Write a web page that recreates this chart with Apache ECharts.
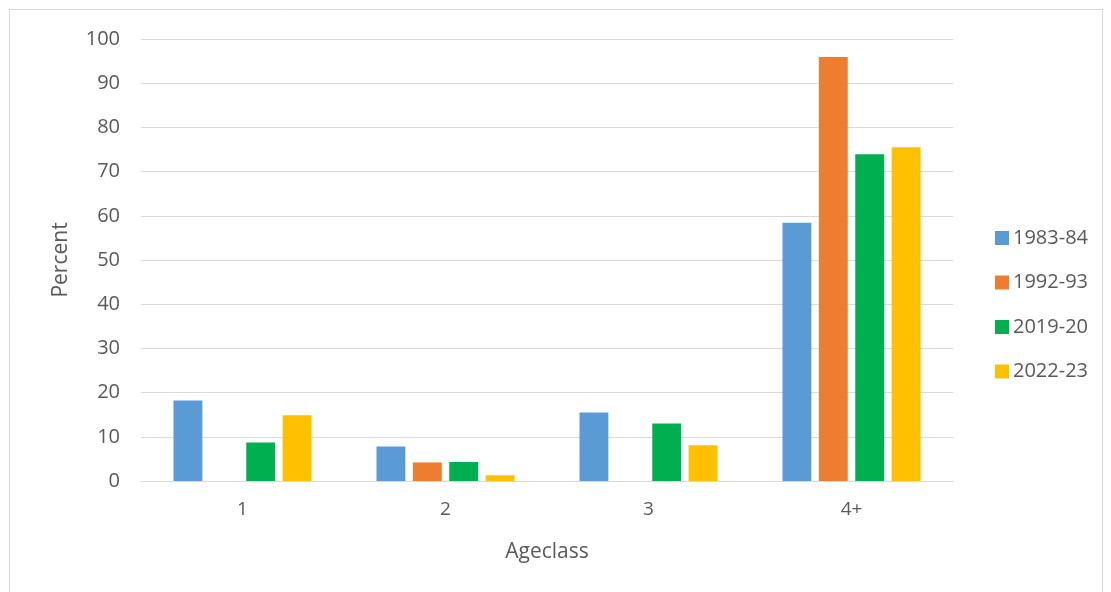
<!DOCTYPE html>
<html><head><meta charset="utf-8">
<script src="https://cdn.jsdelivr.net/npm/echarts@6/dist/echarts.min.js"></script>
<style>html,body{margin:0;padding:0;background:#fff}#c{width:1111px;height:592px}</style>
</head><body><div id="c"></div>
<script>
const categories = ['1', '2', '3', '4+'];
const seriesNames = ['1983-84', '1992-93', '2019-20', '2022-23'];
const s1983 = [18.2, 7.8, 15.5, 58.4];
const s1992 = [null, 4.2, null, 95.9];
const s2019 = [8.7, 4.3, 13.0, 73.9];
const s2022 = [14.9, 1.3, 8.1, 75.5];
const colors = ['#5B9BD5', '#ED7D31', '#00B050', '#FFC000'];
const yTicks = { min: 0, max: 100, interval: 10 };

const values = [s1983, s1992, s2019, s2022];
const font = "'Open Sans', 'Liberation Sans', sans-serif";
const chart = echarts.init(document.getElementById('c'));
chart.setOption({
  animation: false,
  textStyle: { fontFamily: font },
  graphic: [{ type: 'rect', shape: { x: 9.5, y: 9.5, width: 1093, height: 600 }, style: { fill: 'none', stroke: '#d9d9d9', lineWidth: 1 } }],
  grid: { left: 141, right: 158, top: 39, bottom: 111 },
  legend: {
    orient: 'vertical', left: 990, top: 222,
    itemWidth: 14, itemHeight: 14, itemGap: 22.5,
    icon: 'rect',
    textStyle: { fontSize: 20, color: '#595959', fontFamily: font, lineHeight: 22, padding: [0, 0, 0, -1] },
    data: seriesNames
  },
  xAxis: {
    type: 'category', data: categories,
    name: 'Ageclass', nameLocation: 'middle', nameGap: 61,
    nameTextStyle: { fontSize: 21, color: '#595959' },
    axisLine: { lineStyle: { color: '#d9d9d9', width: 1 } },
    axisTick: { show: false },
    axisLabel: { fontSize: 19, color: '#595959', margin: 19 }
  },
  yAxis: {
    type: 'value', min: yTicks.min, max: yTicks.max, interval: yTicks.interval,
    name: 'Percent', nameLocation: 'middle', nameGap: 69, nameRotate: 90,
    nameTextStyle: { fontSize: 21, color: '#595959' },
    axisLine: { show: false }, axisTick: { show: false },
    axisLabel: { fontSize: 20, color: '#595959', margin: 21 },
    splitLine: { lineStyle: { color: '#d9d9d9', width: 1 } }
  },
  series: seriesNames.map((n, i) => ({
    name: n, type: 'bar', data: values[i],
    barGap: '26%', barCategoryGap: '32%',
    itemStyle: { color: colors[i] }
  }))
});
</script></body></html>
